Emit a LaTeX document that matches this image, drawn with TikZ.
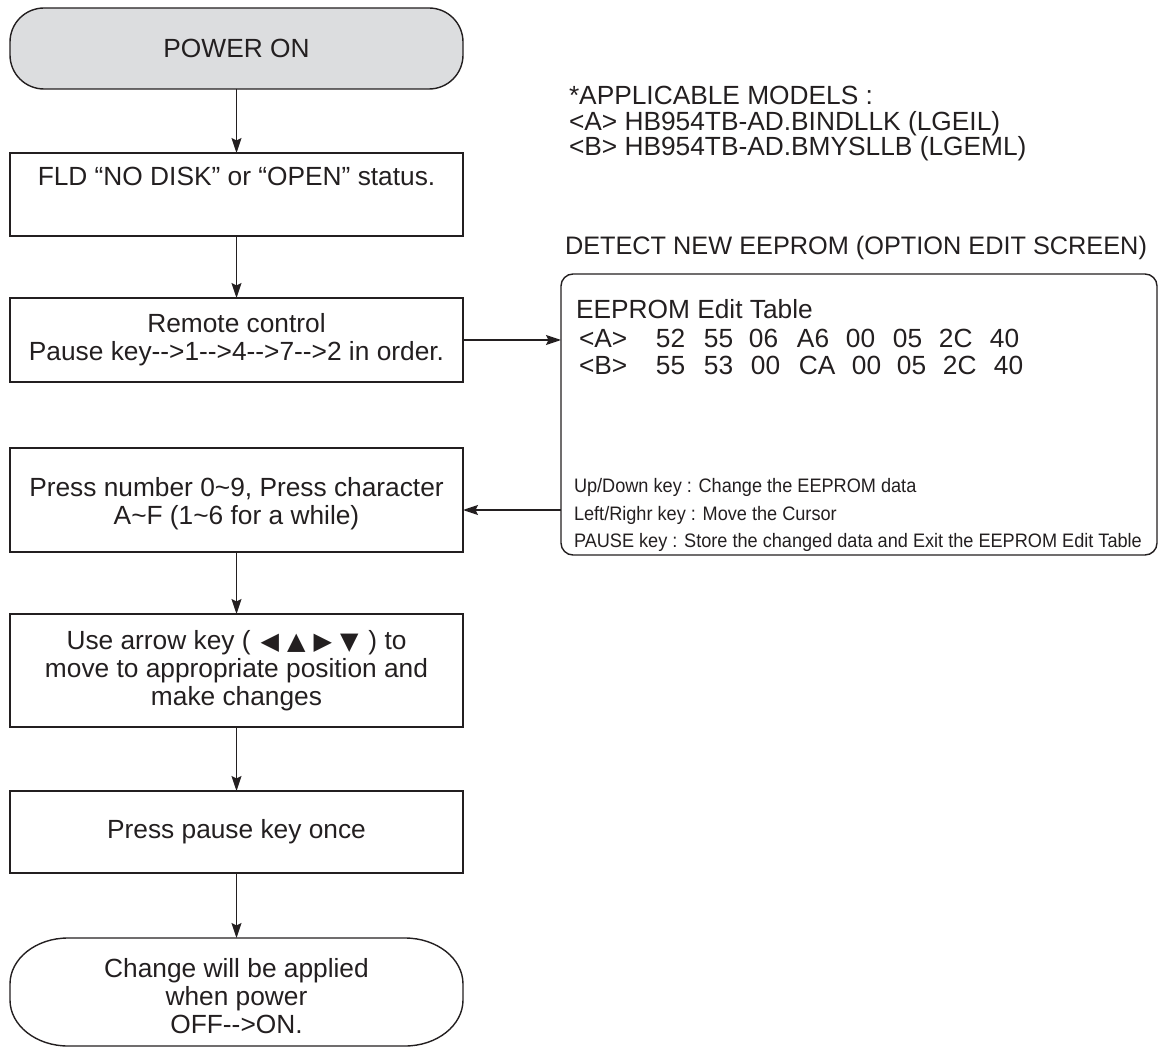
\documentclass[tikz,border=0pt]{standalone}
\usepackage{fontspec}
\setmainfont{Liberation Sans}[Ligatures=TeXOff]
\newfontfamily\symfont{DejaVu Sans}
\newfontfamily\narrowfont{Liberation Sans}[Ligatures=TeXOff,FakeStretch=0.93]
\usetikzlibrary{arrows.meta,backgrounds}
\definecolor{ink}{HTML}{231F20}
\definecolor{termfill}{HTML}{DCDDDF}
\begin{document}
\begin{tikzpicture}[x=1pt,y=-1pt,
  every node/.style={text=ink, inner sep=0pt, outer sep=0pt},
  mainfont/.style={font=\fontsize{26.3}{28}\selectfont},
  smallfont/.style={font=\narrowfont\fontsize{19.5}{27}\selectfont},
  proc/.style={draw=ink, line width=1.4pt, minimum width=453pt, align=center, mainfont},
  term/.style={minimum width=453pt, align=center, mainfont},
  termline/.style={draw=ink, line width=1.4pt},
  screen/.style={draw=ink, line width=1.4pt, rounded corners=12pt},
  arr/.style={draw=ink, line width=1.4pt, -{Stealth[length=15pt,width=10pt,inset=2.5pt]}},
  note/.style={anchor=base west, mainfont},
  smallnote/.style={anchor=base west, smallfont},
]
\useasboundingbox (0,0) rectangle (1159,1048);

% left column
\node[term, minimum height=81pt] (pwr) at (236.5,48.5) {POWER ON};
\node[proc, minimum height=83pt, text height=19pt, text depth=36pt] (fld) at (236.5,194.5) {FLD “NO DISK” or “OPEN” status.};
\node[proc, minimum height=84pt] (rem) at (236.5,340) {Remote control\\Pause key-->1-->4-->7-->2 in order.};
\node[proc, minimum height=104pt] (prs) at (236.5,500) {\rule{0pt}{26pt}Press number 0\textasciitilde 9, Press character\\A\textasciitilde F (1\textasciitilde 6 for a while)};
\node[proc, minimum height=113pt] (use) at (236.5,670.5) {Use arrow key ({\symfont\fontsize{24}{28}\selectfont\hspace{10pt}◀\hspace{8pt}▲\hspace{8pt}▶\hspace{8pt}▼\hspace{10pt}}) to\\move to appropriate position and\\make changes};
\node[proc, minimum height=82pt] (pse) at (236.5,832) {Press pause key once};
\node[term, minimum height=108pt] (fin) at (236.5,992) {\rule{0pt}{27pt}Change will be applied\\when power\\OFF-->ON.};

\begin{scope}[on background layer]
\draw[termline, fill=termfill] ([xshift=34pt]pwr.north west) -- ([xshift=-34pt]pwr.north east)
  arc[start angle=90, end angle=0, x radius=34pt, y radius=34pt]
  -- ([yshift=34pt]pwr.south east)
  arc[start angle=0, end angle=-90, x radius=34pt, y radius=34pt]
  -- ([xshift=34pt]pwr.south west)
  arc[start angle=270, end angle=180, x radius=34pt, y radius=34pt]
  -- ([yshift=-34pt]pwr.north west)
  arc[start angle=180, end angle=90, x radius=34pt, y radius=34pt] -- cycle;
\draw[termline] ([xshift=58pt]fin.north west) -- ([xshift=-58pt]fin.north east)
  arc[start angle=90, end angle=0, x radius=58pt, y radius=46pt]
  -- ([yshift=46pt]fin.south east)
  arc[start angle=0, end angle=-90, x radius=58pt, y radius=46pt]
  -- ([xshift=58pt]fin.south west)
  arc[start angle=270, end angle=180, x radius=58pt, y radius=46pt]
  -- ([yshift=-46pt]fin.north west)
  arc[start angle=180, end angle=90, x radius=58pt, y radius=46pt] -- cycle;
\end{scope}

% right side
\node[note] (m0) at (569,105) {*APPLICABLE MODELS :};
\node[note] (m1) at (569,130.5) {<A> HB954TB-AD.BINDLLK (LGEIL)};
\node[note] (m2) at (569,156) {<B> HB954TB-AD.BMYSLLB (LGEML)};
\node[note, font=\fontsize{25.3}{28}\selectfont] (det) at (565,255) {DETECT NEW EEPROM (OPTION EDIT SCREEN)};

\node[screen, minimum width=596pt, minimum height=281pt] (ee) at (859,414.5) {};
\node[note] (eet) at (576,319) {EEPROM Edit Table};
\node[note] (rowa) at (579,348) {\makebox[77pt][l]{<A>}\makebox[48pt][l]{52}\makebox[45pt][l]{55}\makebox[48pt][l]{06}\makebox[49pt][l]{A6}\makebox[47pt][l]{00}\makebox[46pt][l]{05}\makebox[51pt][l]{2C}40};
\node[note] (rowb) at (579,375) {\makebox[77pt][l]{<B>}\makebox[48pt][l]{55}\makebox[47pt][l]{53}\makebox[48pt][l]{00}\makebox[53pt][l]{CA}\makebox[45pt][l]{00}\makebox[46pt][l]{05}\makebox[51pt][l]{2C}40};
\node[smallnote] (k1) at (574,492) {Up/Down key : Change the EEPROM data};
\node[smallnote] (k2) at (574,520) {Left/Righr key : Move the Cursor};
\node[smallnote] (k3) at (574,547) {PAUSE key : Store the changed data and Exit the EEPROM Edit Table};

% connectors
\draw[arr] (pwr.south) -- (fld.north);
\draw[arr] (fld.south) -- (rem.north);
\draw[arr] (rem.east) -- (rem.east -| ee.west);
\draw[arr] ([yshift=-10pt]prs.east -| ee.west) -- ([yshift=-10pt]prs.east);
\draw[arr] (prs.south) -- (use.north);
\draw[arr] (use.south) -- (pse.north);
\draw[arr] (pse.south) -- (fin.north);
\end{tikzpicture}
\end{document}
